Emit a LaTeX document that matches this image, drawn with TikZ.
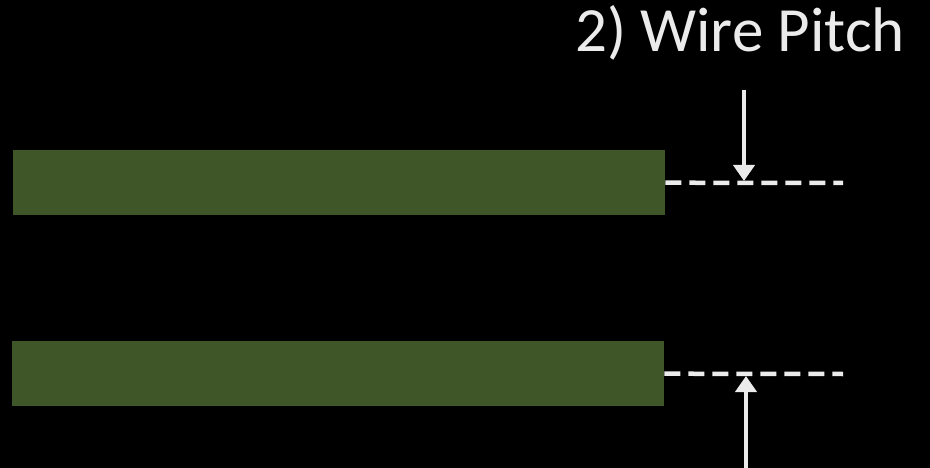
\documentclass[tikz,border=0pt]{standalone}
\usepackage{fontspec}
\setmainfont{Carlito}
\usetikzlibrary{arrows.meta}
\definecolor{wiregreen}{RGB}{62,86,40}
\definecolor{markgray}{RGB}{235,235,235}
\tikzset{
  wire/.style={fill=wiregreen,draw=none,minimum width=652pt,minimum height=65pt,inner sep=0pt,anchor=north west},
  guide/.style={draw=markgray,line width=4.5pt,dash pattern=on 16pt off 8pt},
  pitcharrow/.style={draw=markgray,line width=4.5pt,-{Triangle[width=21pt,length=16pt]}}
}
\begin{document}
\begin{tikzpicture}[x=1pt,y=-1pt]
  \fill[black] (0,0) rectangle (930,468);
  \useasboundingbox (0,0) rectangle (930,468);
  % the two wires
  \node[wire] (wireA) at (13,150) {};
  \node[wire] (wireB) at (12,341) {};
  % pitch marks
  \coordinate (guideA) at (843,183);
  \coordinate (guideB) at (843,374);
  \draw[guide] (wireA.east) -- (guideA);
  \draw[guide] (wireB.east) -- (guideB);
  \coordinate (topA) at (744,90);
  \coordinate (tipA) at (744,181);
  \coordinate (topB) at (746,468);
  \coordinate (tipB) at (746,376);
  \draw[pitcharrow] (topA) -- (tipA);
  \draw[pitcharrow] (topB) -- (tipB);
  \node[anchor=base east,inner sep=0pt,text=markgray,font=\fontsize{63pt}{70pt}\selectfont] (title) at (905,52) {2) Wire Pitch};
\end{tikzpicture}
\end{document}
